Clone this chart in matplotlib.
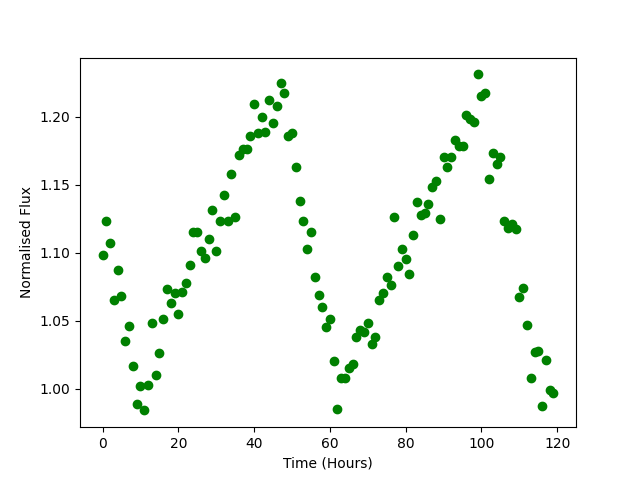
import numpy as np
from matplotlib import pyplot as plt

# time in hours, one reading per hour
time_hours = np.arange(0, 120)

flux = [
    1.098, 1.123, 1.107, 1.065, 1.087, 1.068, 1.035, 1.046, 1.017, 0.989,
    1.002, 0.984, 1.003, 1.048, 1.010, 1.026, 1.051, 1.073, 1.063, 1.070,
    1.055, 1.071, 1.078, 1.091, 1.115, 1.115, 1.101, 1.096, 1.110, 1.131,
    1.101, 1.123, 1.142, 1.123, 1.158, 1.126, 1.172, 1.176, 1.176, 1.186,
    1.209, 1.188, 1.200, 1.189, 1.212, 1.195, 1.208, 1.225, 1.217, 1.186,
    1.188, 1.163, 1.138, 1.123, 1.103, 1.115, 1.082, 1.069, 1.060, 1.045,
    1.051, 1.020, 0.985, 1.008, 1.008, 1.015, 1.018, 1.038, 1.043, 1.042,
    1.048, 1.033, 1.038, 1.065, 1.070, 1.082, 1.076, 1.126, 1.090, 1.103,
    1.095, 1.084, 1.113, 1.137, 1.128, 1.129, 1.136, 1.148, 1.153, 1.125,
    1.170, 1.163, 1.170, 1.183, 1.178, 1.178, 1.201, 1.198, 1.196, 1.231,
    1.215, 1.217, 1.154, 1.173, 1.165, 1.170, 1.123, 1.118, 1.121, 1.117,
    1.067, 1.074, 1.047, 1.008, 1.027, 1.028, 0.987, 1.021, 0.999, 0.997,
]

plt.figure(figsize=(6.4, 4.8))
plt.plot(time_hours, flux, 'o', color='green')
plt.xlabel("Time (Hours)")
plt.ylabel("Normalised Flux")
plt.savefig("out.png", dpi=100)
plt.close()
